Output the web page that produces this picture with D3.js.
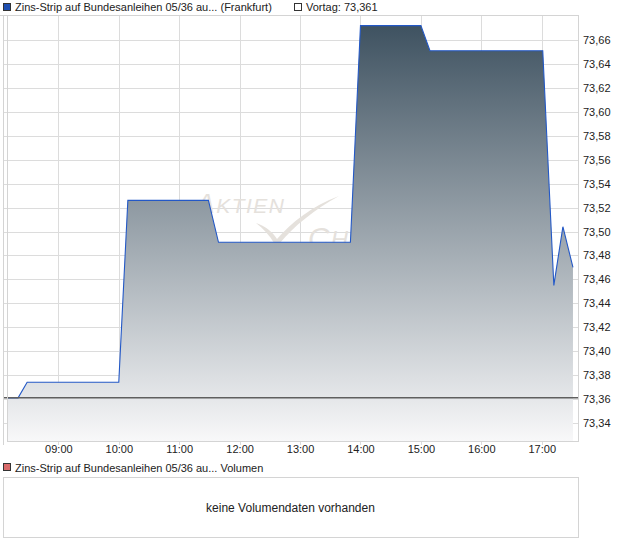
<!DOCTYPE html>
<html>
<head>
<meta charset="utf-8">
<script src="https://cdn.jsdelivr.net/npm/d3@7/dist/d3.min.js"></script>
<style>
  html, body { margin: 0; padding: 0; background: #fff; }
  svg { display: block; font-family: "Liberation Sans", Arial, sans-serif; }
</style>
</head>
<body>
<svg id="chart" width="620" height="546"></svg>
<script>
// Intraday quotes (Frankfurt)
const times  = ["08:09", "08:20", "08:29", "10:00", "10:09", "11:29", "11:39", "13:50", "14:00", "15:00", "15:09", "17:01", "17:12", "17:21", "17:31"];
const values = [73.361, 73.361, 73.374, 73.374, 73.526, 73.526, 73.491, 73.491, 73.672, 73.672, 73.651, 73.651, 73.455, 73.504, 73.470];
const previousClose = 73.361;
const hourTicks = ["09:00", "10:00", "11:00", "12:00", "13:00", "14:00", "15:00", "16:00", "17:00"];
const priceTicks = [73.34, 73.36, 73.38, 73.40, 73.42, 73.44, 73.46, 73.48, 73.50, 73.52, 73.54, 73.56, 73.58, 73.60, 73.62, 73.64, 73.66];
const seriesName = "Zins-Strip auf Bundesanleihen 05/36 au...";
const exchange = "(Frankfurt)";
const noVolumeText = "keine Volumendaten vorhanden";

const parseTime = d3.timeParse("%H:%M");
const de = d3.formatLocale({ decimal: ",", thousands: ".", grouping: [3], currency: ["", " €"] });
const fmt2 = de.format(".2f");
const fmt3 = de.format(".3f");

const svg = d3.select("#chart");
const plot = { left: 7, right: 578, top: 15, bottom: 441 };

const x = d3.scaleTime()
  .domain([parseTime("08:09"), parseTime("17:36")])
  .range([plot.left, plot.right]);
const y = d3.scaleLinear()
  .domain([73.34, 73.66])
  .range([423, 40]);

const data = times.map((t, i) => ({ t: parseTime(t), v: values[i] }));

// gradient for the area fill
const defs = svg.append("defs");
const grad = defs.append("linearGradient")
  .attr("id", "areaGrad")
  .attr("gradientUnits", "userSpaceOnUse")
  .attr("x1", 0).attr("x2", 0)
  .attr("y1", plot.top).attr("y2", plot.bottom);
grad.append("stop").attr("offset", 0).attr("stop-color", "#3a4e5d");
grad.append("stop").attr("offset", 1).attr("stop-color", "#f8f8f9");

defs.append("clipPath").attr("id", "plotClip")
  .append("rect")
  .attr("x", plot.left).attr("y", plot.top)
  .attr("width", plot.right - plot.left).attr("height", plot.bottom - plot.top);

// legend (price)
const legend = svg.append("g");
legend.append("rect").attr("x", 3.5).attr("y", 3.5).attr("width", 7).attr("height", 7)
  .attr("fill", "#1f4fb0").attr("stroke", "#333").attr("stroke-width", 1);
legend.append("text").attr("x", 15).attr("y", 11).attr("font-size", 11).attr("fill", "#222")
  .text(seriesName + " " + exchange);
legend.append("rect").attr("x", 294.5).attr("y", 3.5).attr("width", 7).attr("height", 7)
  .attr("fill", "#fff").attr("stroke", "#333").attr("stroke-width", 1);
legend.append("text").attr("x", 306).attr("y", 11).attr("font-size", 11).attr("fill", "#222")
  .text("Vortag: " + fmt3(previousClose));

// grid
const grid = svg.append("g").attr("stroke", "#dcdcdc").attr("stroke-width", 1).attr("shape-rendering", "crispEdges");
grid.selectAll(".hy").data(priceTicks).join("line")
  .attr("x1", 3).attr("x2", plot.right)
  .attr("y1", d => Math.round(y(d)) + 0.5).attr("y2", d => Math.round(y(d)) + 0.5);
grid.selectAll(".vx").data(hourTicks).join("line")
  .attr("x1", d => Math.round(x(parseTime(d))) + 0.5).attr("x2", d => Math.round(x(parseTime(d))) + 0.5)
  .attr("y1", plot.top).attr("y2", plot.bottom + 4);

// watermark
const wm = svg.append("g").attr("fill", "#e5e1dc");
const wmTop = wm.append("text").attr("x", 196).attr("y", 213).attr("font-style", "italic")
  .attr("letter-spacing", 1.5);
wmTop.append("tspan").attr("font-size", 28).text("A");
wmTop.append("tspan").attr("font-size", 21).text("KTIEN");
wm.append("path").attr("d", "M256,223 C265,226 273,232 277,239 C292,222 312,206 339,196 C314,210 294,226 280,243 L274,243 C270,236 264,229 256,223 Z");
const wmBottom = wm.append("text").attr("x", 308).attr("y", 248).attr("font-style", "italic")
  .attr("letter-spacing", 1);
wmBottom.append("tspan").attr("font-size", 30).text("C");
wmBottom.append("tspan").attr("font-size", 24).text("HECK");

// area + line
const gPlot = svg.append("g").attr("clip-path", "url(#plotClip)");
gPlot.append("path").datum(data)
  .attr("fill", "url(#areaGrad)")
  .attr("d", d3.area().x(d => x(d.t)).y0(plot.bottom).y1(d => y(d.v)));
gPlot.append("path").datum(data)
  .attr("fill", "none").attr("stroke", "#2358c6").attr("stroke-width", 1.1)
  .attr("d", d3.line().x(d => x(d.t)).y(d => y(d.v)));

// previous close reference line
svg.append("line")
  .attr("x1", 3).attr("x2", plot.right + 1)
  .attr("y1", y(previousClose)).attr("y2", y(previousClose))
  .attr("stroke", "#5f5f5f").attr("stroke-width", 1.5);

// frame
const frame = svg.append("g").attr("stroke", "#d4d4d4").attr("fill", "none").attr("shape-rendering", "crispEdges");
frame.append("rect").attr("x", plot.left + 0.5).attr("y", plot.top + 0.5)
  .attr("width", plot.right - plot.left).attr("height", plot.bottom - plot.top);
frame.append("line").attr("x1", 3.5).attr("x2", 3.5).attr("y1", plot.top).attr("y2", plot.bottom + 4);
frame.append("line").attr("x1", 0).attr("x2", plot.left).attr("y1", plot.top + 0.5).attr("y2", plot.top + 0.5);

// axes
const yAxis = d3.axisRight(y).tickValues(priceTicks).tickFormat(fmt2).tickSize(0).tickPadding(5);
svg.append("g").attr("transform", `translate(${plot.right},0)`).call(yAxis)
  .call(g => g.select(".domain").remove())
  .call(g => g.selectAll("text").attr("font-size", 11).attr("fill", "#222").attr("font-family", "Liberation Sans, Arial, sans-serif"));

const xAxis = d3.axisBottom(x).tickValues(hourTicks.map(parseTime)).tickFormat(d3.timeFormat("%H:%M")).tickSize(0).tickPadding(4);
svg.append("g").attr("transform", `translate(0,${plot.bottom})`).call(xAxis)
  .call(g => g.select(".domain").remove())
  .call(g => g.selectAll("text").attr("font-size", 11).attr("fill", "#222").attr("font-family", "Liberation Sans, Arial, sans-serif"));

// volume panel
const vol = svg.append("g");
vol.append("rect").attr("x", 3.5).attr("y", 463.5).attr("width", 7).attr("height", 7)
  .attr("fill", "#d96a6a").attr("stroke", "#333").attr("stroke-width", 1);
vol.append("text").attr("x", 15).attr("y", 472).attr("font-size", 11).attr("fill", "#222")
  .text(seriesName + " Volumen");
vol.append("rect").attr("x", 3.5).attr("y", 477.5).attr("width", plot.right - 3).attr("height", 60)
  .attr("fill", "#fff").attr("stroke", "#d4d4d4").attr("shape-rendering", "crispEdges");
vol.append("text").attr("x", (3 + plot.right) / 2).attr("y", 512).attr("text-anchor", "middle")
  .attr("font-size", 12).attr("fill", "#222").text(noVolumeText);
</script>
</body>
</html>
